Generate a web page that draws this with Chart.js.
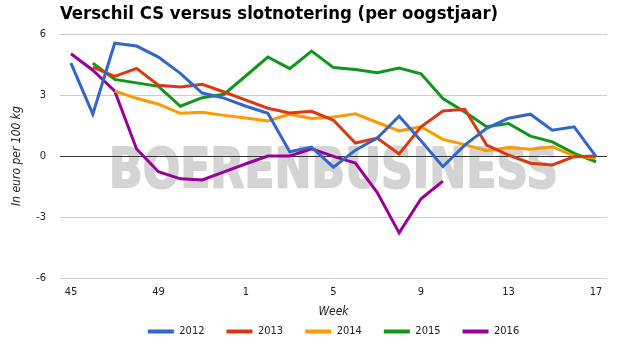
<!DOCTYPE html>
<html>
<head>
<meta charset="utf-8">
<script src="https://cdn.jsdelivr.net/npm/chart.js@4.4.0/dist/chart.umd.min.js"></script>
<style>
  html, body { margin: 0; padding: 0; background: #fff; }
</style>
</head>
<body>
<canvas id="chart" width="619" height="344"></canvas>
<script>
// weeks of the harvest year, from week 45 through week 17 of the next year
const weeks = ['45','46','47','48','49','50','51','52','1','2','3','4','5','6','7','8','9','10','11','12','13','14','15','16','17'];
const yTicks = [-6, -3, 0, 3, 6];

const y2012 = [4.57, 2.06, 5.55, 5.41, 4.87, 4.07, 3.10, 2.85, 2.45, 2.10, 0.21, 0.44, -0.55, 0.29, 0.88, 1.96, 0.75, -0.52, 0.54, 1.36, 1.86, 2.06, 1.27, 1.44, -0.03];
const y2013 = [null, 4.38, 3.92, 4.31, 3.48, 3.40, 3.53, 3.15, 2.75, 2.35, 2.12, 2.20, 1.76, 0.64, 0.88, 0.10, 1.44, 2.22, 2.30, 0.54, 0.05, -0.35, -0.44, -0.03, 0.00];
const y2014 = [null, null, 3.20, 2.84, 2.55, 2.10, 2.15, 2.00, 1.87, 1.73, 2.06, 1.85, 1.92, 2.08, 1.65, 1.24, 1.44, 0.82, 0.56, 0.26, 0.42, 0.33, 0.46, 0.00, -0.10];
const y2015 = [null, 4.57, 3.77, 3.60, 3.43, 2.45, 2.87, 3.04, 3.95, 4.87, 4.30, 5.16, 4.35, 4.26, 4.10, 4.33, 4.05, 2.83, 2.17, 1.44, 1.60, 0.98, 0.70, 0.13, -0.28];
const y2016 = [5.03, 4.22, 3.20, 0.35, -0.77, -1.12, -1.18, -0.78, -0.38, 0.00, 0.00, 0.36, -0.02, -0.35, -1.80, -3.78, -2.10, -1.23, null, null, null, null, null, null, null];

const seriesNames = ['2012', '2013', '2014', '2015', '2016'];
const seriesColors = ['#3366cc', '#dc3912', '#ff9900', '#109618', '#990099'];
const seriesValues = [y2012, y2013, y2014, y2015, y2016];

const FONT = '"DejaVu Sans Condensed", "DejaVu Sans", sans-serif';

// grey brand name behind the grid and the lines
const watermark = {
  id: 'watermark',
  beforeDraw(chart) {
    const { ctx, chartArea } = chart;
    const text = 'BOERENBUSINESS';
    const left = chartArea.left + 49;
    const right = chartArea.left + 498;
    const base = chartArea.top + 139;
    ctx.save();
    ctx.font = 'bold 55px "DejaVu Sans"';
    const w = ctx.measureText(text).width;
    ctx.translate(left, base);
    ctx.scale((right - left) / w, 1);
    ctx.fillStyle = '#d4d4d4';
    ctx.strokeStyle = '#d4d4d4';
    ctx.lineWidth = 2;
    ctx.lineJoin = 'round';
    ctx.fillText(text, 0, 0);
    ctx.strokeText(text, 0, 0);
    ctx.restore();
  }
};

new Chart(document.getElementById('chart'), {
  type: 'line',
  data: {
    labels: weeks,
    datasets: seriesNames.map((name, i) => ({
      label: name,
      data: seriesValues[i],
      borderColor: seriesColors[i],
      backgroundColor: seriesColors[i],
      borderWidth: 3,
      pointRadius: 0,
      pointHoverRadius: 0,
      tension: 0,
      fill: false
    }))
  },
  options: {
    responsive: false,
    animation: false,
    devicePixelRatio: 1,
    layout: { padding: { left: 0, right: 12, top: 0, bottom: 0 } },
    plugins: {
      title: {
        display: true,
        text: 'Verschil CS versus slotnotering (per oogstjaar)',
        align: 'start',
        fullSize: false,
        color: '#000',
        font: { family: FONT, size: 18.4, weight: 'bold' },
        padding: { top: 3, bottom: 9 }
      },
      legend: {
        position: 'bottom',
        fullSize: false,
        maxHeight: 40,
        labels: {
          boxWidth: 26,
          boxHeight: 4,
          padding: 22,
          color: '#222',
          font: { family: FONT, size: 11 },
          generateLabels(chart) {
            return Chart.defaults.plugins.legend.labels.generateLabels(chart).map(l => {
              l.lineWidth = 0;
              l.fillStyle = l.strokeStyle;
              return l;
            });
          }
        }
      },
      tooltip: { enabled: false }
    },
    scales: {
      x: {
        type: 'category',
        offset: true,
        grid: { display: false, drawTicks: false },
        border: { display: false },
        ticks: {
          autoSkip: false,
          maxRotation: 0,
          padding: 8,
          color: '#222',
          font: { family: FONT, size: 11 },
          callback(value, index) {
            return index % 4 === 0 ? this.getLabelForValue(value) : '';
          }
        },
        title: {
          display: true,
          text: 'Week',
          color: '#222',
          font: { family: FONT, size: 12, style: 'italic' },
          padding: { top: 0, bottom: -15 }
        },
        afterFit(scale) { scale.height = 26; }
      },
      y: {
        min: -6,
        max: 6,
        afterBuildTicks(scale) { scale.ticks = yTicks.map(v => ({ value: v })); },
        grid: {
          drawTicks: false,
          color: c => (c.tick && c.tick.value === 0 ? '#333' : '#ccc'),
          lineWidth: 1
        },
        border: { display: false },
        ticks: {
          padding: 14,
          color: '#222',
          font: { family: FONT, size: 11 }
        },
        title: {
          display: true,
          text: 'In euro per 100 kg',
          color: '#222',
          font: { family: FONT, size: 12, style: 'italic' },
          padding: { top: 10, bottom: 0 }
        },
        afterFit(scale) { scale.width = 60; }
      }
    }
  },
  plugins: [watermark]
});
</script>
</body>
</html>
